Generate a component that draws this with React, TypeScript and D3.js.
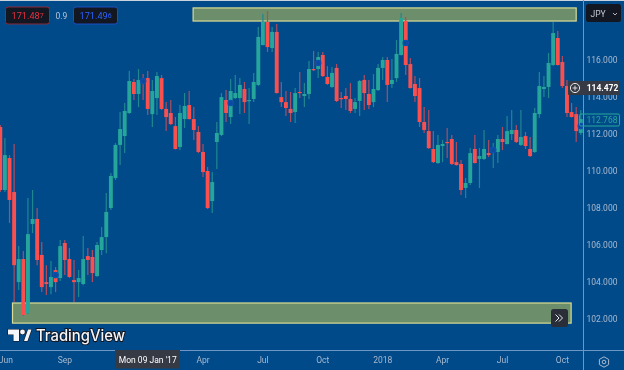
import React from "react";
import * as d3 from "d3";

const opens = [112.37,108.96,110.69,108.85,103.97,105.22,102.29,107.12,107.39,105.44,103.97,103.70,104.62,104.19,106.09,105.22,104.08,103.97,103.87,105.38,105.33,104.30,105.71,106.41,107.98,
  109.61,111.40,111.88,113.13,114.81,114.16,114.92,115.02,113.07,113.94,115.02,113.35,113.13,112.42,111.29,112.80,113.56,112.80,112.10,111.02,109.99,108.36,
  111.56,111.94,113.83,112.91,113.94,113.94,114.43,113.78,113.89,114.65,116.81,118.06,116.65,117.52,113.99,113.72,113.35,113.18,114.27,114.05,114.16,115.51,115.51,116.27,115.08,114.54,115.57,113.94,114.05,113.89,113.35,113.78,114.92,114.16,113.72,114.37,115.57,116.00,114.70,115.02,116.27,118.11,115.78,114.70,114.48,
  112.64,112.15,111.18,110.42,111.34,111.56,111.72,110.47,110.37,109.07,109.34,111.18,110.64,110.64,110.96,111.02,111.02,111.72,111.45,111.99,112.21,111.40,111.88,111.18,111.02,113.07,114.43,114.54,115.73,117.19,115.89,114.59,113.18,113.07,112.05];
const highs = [112.48,111.77,110.85,111.45,105.92,105.65,108.52,108.96,107.98,106.14,104.89,105.11,104.79,106.25,106.25,105.82,105.17,104.62,106.47,105.82,105.71,106.14,106.95,108.80,109.88,
  111.50,113.18,113.67,115.40,114.97,115.51,115.24,115.40,114.92,115.35,115.19,113.72,113.83,112.91,113.56,114.21,114.32,113.45,112.42,111.45,110.20,109.93,
  112.64,114.21,114.37,114.97,115.19,115.02,114.81,114.48,115.30,117.79,118.49,118.65,117.79,117.95,114.81,114.32,114.27,114.48,115.35,114.75,115.95,116.49,116.43,116.43,115.67,115.62,115.78,114.27,114.48,114.75,113.94,114.92,115.19,114.92,115.24,115.78,116.16,116.16,116.05,117.08,118.55,118.33,116.11,115.13,115.02,
  113.45,113.29,112.15,111.94,111.67,112.32,111.94,111.56,110.58,109.61,111.23,111.94,111.23,112.21,111.67,111.50,111.94,112.37,112.97,113.29,112.48,113.29,112.10,111.83,113.40,115.35,115.13,116.38,118.06,117.57,116.22,114.92,113.67,113.45,113.29];
const lows = [108.85,108.85,107.17,102.89,103.54,102.13,102.24,106.63,104.89,103.43,103.27,103.32,103.43,104.03,104.35,104.19,102.89,103.16,103.80,104.35,103.97,104.25,105.44,105.54,107.87,
  109.50,110.31,110.96,113.08,113.83,113.45,113.83,113.02,112.37,113.02,113.29,112.15,112.48,111.15,111.12,112.32,112.78,111.67,110.96,109.66,107.93,107.71,
  110.10,111.88,112.64,112.53,113.89,113.07,113.13,112.53,113.72,114.59,116.78,116.43,116.43,114.18,113.45,112.97,112.64,112.59,113.94,113.45,113.89,115.40,115.02,115.08,114.65,114.48,113.72,113.40,113.29,113.13,113.13,112.97,113.29,113.35,113.45,114.32,114.92,113.72,114.48,114.81,116.24,115.19,114.45,113.72,112.37,
  112.05,111.18,110.42,110.37,110.47,110.69,110.31,110.28,108.69,108.52,109.23,110.40,109.07,110.58,110.75,110.15,110.42,111.12,111.42,111.67,111.50,111.34,111.18,110.75,110.96,112.86,113.99,113.94,115.67,115.70,114.48,112.91,112.89,111.56,111.94];
const closes = [108.96,110.85,108.42,104.89,105.22,102.19,106.57,107.39,105.17,103.70,103.87,104.25,103.97,105.92,105.17,104.25,103.97,104.19,105.22,105.17,104.46,105.98,106.41,107.77,109.72,
  111.40,112.26,113.24,114.86,114.16,114.92,114.81,113.35,114.32,115.13,113.35,112.91,112.53,111.18,113.13,113.51,112.80,112.21,111.02,109.93,107.98,109.39,
  112.05,113.99,113.13,114.32,114.21,114.65,113.72,113.83,114.81,117.25,118.06,116.70,117.52,114.21,113.72,113.40,113.13,114.21,114.21,114.16,115.51,115.46,116.16,115.13,114.70,115.30,113.78,113.89,113.89,113.24,113.72,114.86,114.21,113.56,114.43,115.57,116.00,114.65,114.92,116.33,118.27,115.73,114.48,114.05,112.64,
  112.21,111.23,110.47,111.40,111.45,111.50,110.37,110.31,108.96,109.34,110.96,110.42,110.80,111.18,110.85,111.23,111.72,111.56,112.15,112.21,111.56,111.83,111.34,110.80,113.13,114.59,114.54,115.84,117.46,115.73,114.59,113.13,112.91,112.15,112.80];

// dots: one every 19 weeks
const dotIndexes = [12, 31, 50, 69, 88, 107, 126];
const dotPrices = [104.35, 114.86, 113.67, 115.84, 116.92, 111.12, 112.42];

const priceTicks = [116, 114, 112, 110, 108, 106, 104, 102];
const timeLabels = ["Jun", "Sep", "Apr", "Jul", "Oct", "2018", "Apr", "Jul", "Oct"];
const timeIndexes = [1.2, 14, 44, 57, 70, 83, 96, 109, 122];
const crosshairLabel = "Mon 09 Jan '17";
const crosshairIndex = 32;
const crosshairPrice = 114.472;
const lastPrice = 112.768;

const zoneStarts = [41.85, 2.65];
const zoneEnds = [125, 123.9];
const zoneTops = [118.82, 102.84];
const zoneBottoms = [118.11, 101.75];

const BG = "#014a8a";
const UP = "#26a69a";
const DOWN = "#f9504f";
const UPWICK = "#1f8790";
const DOWNWICK = "#b04c5f";
const AXIS = "#a9b9cd";
const LINE = "#6e96c4";
const FONT = "Roboto, 'Liberation Sans', sans-serif";

export default function App() {
  const x = d3.scaleLinear().domain([0, 126]).range([0.3, 580.8]);
  const y = d3.scaleLinear().domain([116, 102]).range([60, 318.5]);
  const bodyW = 3.9;

  return (
    <svg
      width={624}
      height={370}
      viewBox="0 0 624 370"
      style={{ position: "fixed", left: 0, top: 0, display: "block", background: BG, fontFamily: FONT, filter: "blur(0.3px)" }}
    >
      <rect x={0} y={0} width={624} height={370} fill={BG} />
      <rect x={0} y={0} width={624} height={1} fill="#c9d3de" />

      {/* zones */}
      {zoneStarts.map((s, i) => (
        <rect
          key={i}
          x={x(s)}
          y={y(zoneTops[i])}
          width={x(zoneEnds[i]) - x(s)}
          height={y(zoneBottoms[i]) - y(zoneTops[i])}
          fill="#6d8e6a"
          stroke="#d8dc94"
          strokeWidth={1.2}
        />
      ))}

      {/* candles */}
      {opens.map((o, i) => {
        const c = closes[i];
        const up = c >= o;
        const top = y(Math.max(o, c));
        const bot = y(Math.min(o, c));
        return (
          <g key={i}>
            <line
              x1={x(i)}
              x2={x(i)}
              y1={y(highs[i])}
              y2={y(lows[i])}
              stroke={up ? UPWICK : DOWNWICK}
              strokeWidth={1.2}
            />
            <rect
              x={x(i) - bodyW / 2}
              y={top}
              width={bodyW}
              height={Math.max(bot - top, 1.2)}
              fill={up ? UP : DOWN}
            />
          </g>
        );
      })}

      {/* dots */}
      {dotIndexes.map((d, i) => (
        <circle key={d} cx={x(d)} cy={y(dotPrices[i])} r={2.6} fill="#0b4a9c" stroke="#0f4fae" strokeWidth={1.4} />
      ))}

      {/* axis lines */}
      <line x1={583.5} x2={583.5} y1={0} y2={370} stroke={LINE} strokeWidth={1} />
      <line x1={0} x2={624} y1={350.5} y2={350.5} stroke={LINE} strokeWidth={1} />

      {/* price axis */}
      {priceTicks.map((t) => (
        <text key={t} x={602} y={y(t) + 3} fontSize={8.5} textAnchor="middle" fill={AXIS}>
          {t.toFixed(3)}
        </text>
      ))}

      {/* crosshair price */}
      <rect x={568} y={81} width={52} height={14} rx={1} fill="#363a45" />
      <circle cx={575} cy={88} r={4.6} fill="none" stroke="#e8e8e8" strokeWidth={1} />
      <path d="M572.6 88H577.4M575 85.6V90.4" stroke="#e8e8e8" strokeWidth={0.9} />
      <text x={602.5} y={y(crosshairPrice) + 3} fontSize={8.5} fontWeight={700} textAnchor="middle" fill="#fff">
        {crosshairPrice.toFixed(3)}
      </text>

      {/* last price */}
      <rect x={579.5} y={114} width={40} height={12} rx={1.5} fill="none" stroke={UP} strokeWidth={1} />
      <text x={602} y={y(lastPrice) + 3} fontSize={8.5} textAnchor="middle" fill={UP}>
        {lastPrice.toFixed(3)}
      </text>

      {/* time axis */}
      {timeLabels.map((t, i) => (
        <text key={i} x={x(timeIndexes[i])} y={363} fontSize={8.5} textAnchor="middle" fill={AXIS}>
          {t}
        </text>
      ))}
      <rect x={115} y={350} width={65} height={18.5} fill="#363a45" />
      <text x={x(crosshairIndex)} y={363} fontSize={8.5} textAnchor="middle" fill="#fff">
        {crosshairLabel}
      </text>

      {/* settings */}
      <path
        d="M604 356.8L608.6 359.4V364.6L604 367.2L599.4 364.6V359.4Z"
        fill="none"
        stroke={AXIS}
        strokeWidth={1}
        strokeLinejoin="round"
      />
      <circle cx={604} cy={362} r={1.8} fill="none" stroke={AXIS} strokeWidth={1} />

      {/* header */}
      <rect x={5.5} y={7} width={44} height={17} rx={2.5} fill="#131722" stroke="#8a2a3e" strokeWidth={1} />
      <text x={11.5} y={19} fontSize={9.2} fill="#e5303f">
        171.48<tspan fontSize={7} dy={-1.5}>7</tspan>
      </text>
      <text x={61.5} y={18.5} fontSize={8.5} textAnchor="middle" fill="#b6c3d4">0.9</text>
      <rect x={73.5} y={7} width={44} height={17} rx={2.5} fill="#131722" stroke="#1e4fc0" strokeWidth={1} />
      <text x={79.5} y={19} fontSize={9.2} fill="#2962ff">
        171.49<tspan fontSize={7} dy={-1.5}>6</tspan>
      </text>

      {/* currency */}
      <rect x={586} y={4} width={35} height={18} rx={2.5} fill="#131722" />
      <text x={590.5} y={16.5} fontSize={8.5} fill="#c4c7cf">JPY</text>
      <path d="M613 13L615 15L617 13" fill="none" stroke="#c4c7cf" strokeWidth={0.9} />

      {/* logo */}
      <g fill="#f4f6f9" stroke="#131722" strokeWidth={1.2} paintOrder="stroke">
        <path d="M8 329.5H19V341H13.5V334.5H8Z" />
        <circle cx={22.5} cy={332} r={2.4} />
        <path d="M24 341L28 329.5H31.5L27.5 341Z" />
      </g>
      <text
        x={36}
        y={341}
        fontSize={15.5}
        fontWeight={500}
        fontFamily="Inter, Roboto, sans-serif"
        fill="#f4f6f9"
        stroke="#131722"
        strokeWidth={2}
        paintOrder="stroke"
        textLength={89}
        lengthAdjust="spacingAndGlyphs"
      >
        TradingView
      </text>

      {/* go-to-latest button */}
      <rect x={551} y={309} width={17} height={18} rx={2.5} fill="#2a2e39" />
      <path d="M555.5 314.5L559 318L555.5 321.5M559 314.5L562.5 318L559 321.5" fill="none" stroke="#e8eaed" strokeWidth={1} />
    </svg>
  );
}
